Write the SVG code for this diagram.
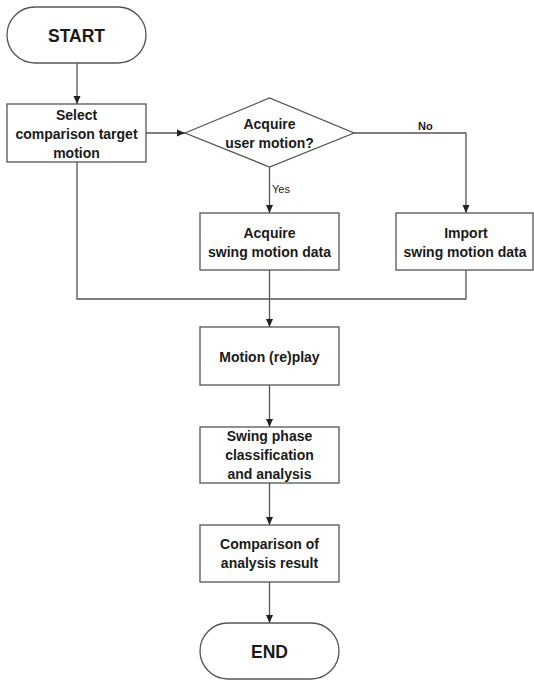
<svg xmlns="http://www.w3.org/2000/svg" width="534" height="680" viewBox="0 0 534 680">
<style>
.box{fill:#fff;stroke:#555;stroke-width:1.3}
.t{font-family:"Liberation Sans",Arial,sans-serif;font-weight:bold;font-size:14px;fill:#1a1a1a;text-anchor:middle}
.big{font-size:17.5px}
.lbl{font-family:"Liberation Sans",Arial,sans-serif;font-size:11px;fill:#1a1a1a}
.c{fill:none;stroke:#555;stroke-width:1.3}
</style>
<defs>
<marker id="ah" viewBox="0 0 8 8" refX="8" refY="4" markerWidth="8" markerHeight="8" markerUnits="userSpaceOnUse" orient="auto">
<path d="M0,0.5 L8,4 L0,7.5 Z" fill="#222"/>
</marker>
</defs>
<rect width="534" height="680" fill="#fff"/>
<g id="connectors">
<path class="c" d="M77,63 V104" marker-end="url(#ah)"/>
<path class="c" d="M146,133 H185" marker-end="url(#ah)"/>
<path class="c" d="M269.5,167 V213" marker-end="url(#ah)"/>
<path class="c" d="M354,133 H466 V213" marker-end="url(#ah)"/>
<path class="c" d="M77,162 V299 H466 V270"/>
<path class="c" d="M269.5,270 V327" marker-end="url(#ah)"/>
<path class="c" d="M269.5,385 V427" marker-end="url(#ah)"/>
<path class="c" d="M269.5,483 V525" marker-end="url(#ah)"/>
<path class="c" d="M269.5,582 V623" marker-end="url(#ah)"/>
<text class="lbl" x="272" y="193">Yes</text>
<text class="lbl" x="418" y="130" font-weight="bold">No</text>
</g>
<g id="start">
<rect class="box" x="7" y="7" width="139" height="56" rx="28" ry="28"/>
<text class="t big" x="76.5" y="42">START</text>
</g>
<g id="select">
<rect class="box" x="7" y="104" width="139" height="58"/>
<text class="t" x="76.5" y="120">Select</text>
<text class="t" x="76.5" y="139">comparison target</text>
<text class="t" x="76.5" y="158">motion</text>
</g>
<g id="decision">
<polygon class="box" points="185,133 269.5,98 354,133 269.5,167"/>
<text class="t" x="269.5" y="129">Acquire</text>
<text class="t" x="269.5" y="148">user motion?</text>
</g>
<g id="acquire">
<rect class="box" x="200" y="213" width="139" height="57"/>
<text class="t" x="269.5" y="238">Acquire</text>
<text class="t" x="269.5" y="257">swing motion data</text>
</g>
<g id="import">
<rect class="box" x="396" y="213" width="137" height="57"/>
<text class="t" x="466" y="238">Import</text>
<text class="t" x="465" y="257">swing motion data</text>
</g>
<g id="replay">
<rect class="box" x="200" y="327" width="139" height="58"/>
<text class="t" x="269.5" y="362">Motion (re)play</text>
</g>
<g id="phase">
<rect class="box" x="200" y="427" width="139" height="56"/>
<text class="t" x="269.5" y="441">Swing phase</text>
<text class="t" x="269.5" y="460">classification</text>
<text class="t" x="269.5" y="479">and analysis</text>
</g>
<g id="compare">
<rect class="box" x="200" y="525" width="139" height="57"/>
<text class="t" x="269.5" y="549">Comparison of</text>
<text class="t" x="269.5" y="568">analysis result</text>
</g>
<g id="end">
<rect class="box" x="200" y="623" width="139" height="56" rx="28" ry="28"/>
<text class="t big" x="269.5" y="658">END</text>
</g>
</svg>
